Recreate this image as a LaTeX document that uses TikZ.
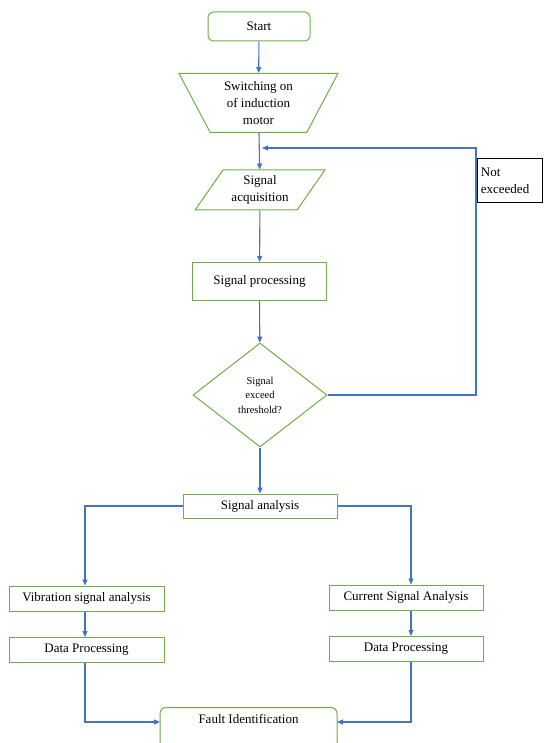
\documentclass[tikz,border=0pt]{standalone}
\usepackage{fontspec}
\setmainfont{Liberation Serif}
\usetikzlibrary{shapes.geometric,arrows.meta}
\definecolor{boxgreen}{RGB}{112,173,71}
\definecolor{lineblue}{RGB}{68,114,196}
\begin{document}
\begin{tikzpicture}[x=1pt,y=-1pt,
  base/.style={draw=boxgreen, line width=1pt, font=\fontsize{13}{17}\selectfont, align=center, inner sep=2pt},
  rbox/.style={base, rectangle},
  conn/.style={draw=lineblue, line width=1.1pt, -{Triangle[length=6pt,width=5pt]}},
  plain/.style={draw=lineblue, line width=1.1pt}]
\useasboundingbox (0,0) rectangle (543,743);

\node (start) [base, rounded corners=5pt, minimum width=102pt, minimum height=29pt] at (259,26.5) {Start};
\node (trap) [base, trapezium, trapezium stretches=true, shape border rotate=180,
  trapezium left angle=63.4, trapezium right angle=63.4,
  minimum width=159pt, minimum height=59pt] at (258.5,103) {Switching on\\of induction\\motor};
\node (acq) [base, trapezium, trapezium stretches=true,
  trapezium left angle=55, trapezium right angle=125,
  minimum width=130pt, minimum height=40pt] at (260,190) {Signal\\acquisition};
\node (proc) [rbox, minimum width=134pt, minimum height=38pt] at (259.5,281.5) {Signal processing};
\node (dec) [base, diamond, minimum width=134pt, minimum height=104pt, inner sep=0pt,
  font=\fontsize{10.5}{14.5}\selectfont] at (260,395) {Signal\\exceed\\threshold?};
\node (ana) [rbox, minimum width=154pt, minimum height=24pt] at (260,506) {Signal analysis};
\node (vib) [rbox, minimum width=155pt, minimum height=25pt] at (86.5,598.5) {Vibration signal analysis};
\node (dp1) [rbox, minimum width=155pt, minimum height=25pt] at (86.5,650) {Data Processing};
\node (cur) [rbox, minimum width=154pt, minimum height=25pt] at (406,597.5) {Current Signal Analysis};
\node (dp2) [rbox, minimum width=154pt, minimum height=25pt] at (406,649) {Data Processing};
\node (fault) [base, rounded corners=6pt, minimum width=177pt, inner ysep=4pt,
  text height=12pt, text depth=40pt, anchor=north] at (248.5,707) {Fault Identification};
\node (note) [draw=black, line width=0.8pt, font=\fontsize{13}{17}\selectfont, align=left,
  anchor=north west, minimum width=65pt, minimum height=44pt, inner sep=3pt, text width=58pt] at (477,158) {Not\\exceeded};

\coordinate (join) at (262,148);
\coordinate (loopc) at (476,395);
\coordinate (lv) at (85,506);
\coordinate (rv) at (411,506);
\coordinate (fl) at (160,722);
\coordinate (fr) at (337,722);

\draw[conn] (start) -- (trap);
\draw[conn] (trap) -- (acq);
\draw[conn] (acq) -- (proc);
\draw[conn] (proc) -- (dec);
\draw[conn] (dec) -- (ana);
\draw[conn] (dec.east) -- (loopc) |- (join);
\draw[conn] (ana.west) -- (lv) -- (lv |- vib.north);
\draw[conn] (ana.east) -- (rv) -- (rv |- cur.north);
\draw[conn] (lv |- vib.south) -- (lv |- dp1.north);
\draw[conn] (rv |- cur.south) -- (rv |- dp2.north);
\draw[conn] (lv |- dp1.south) |- (fl);
\draw[conn] (rv |- dp2.south) |- (fr);
\end{tikzpicture}
\end{document}
